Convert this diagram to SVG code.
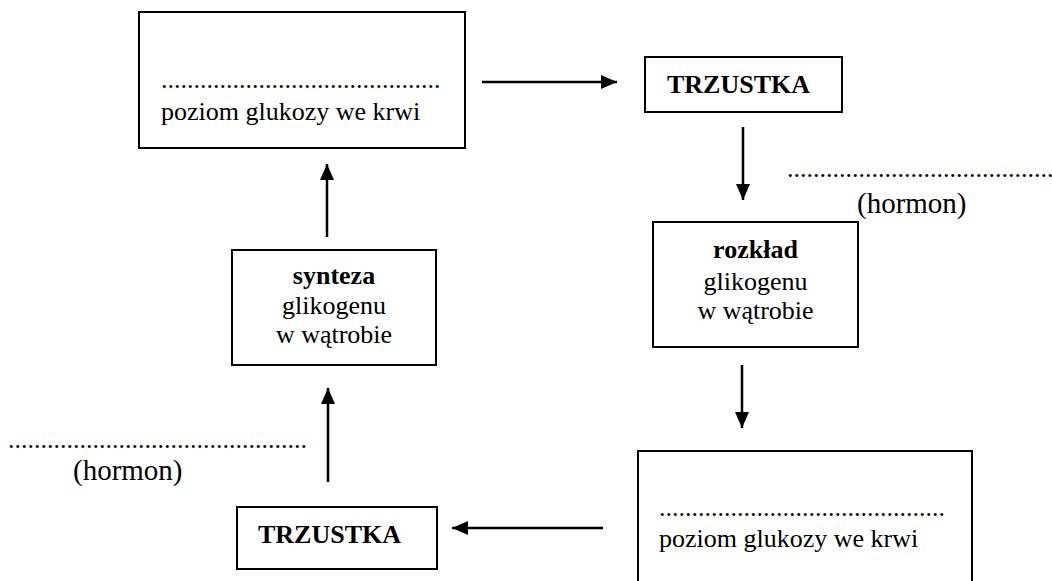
<svg xmlns="http://www.w3.org/2000/svg" width="1052" height="581" viewBox="0 0 1052 581">
<defs>
<marker id="ah" markerUnits="userSpaceOnUse" markerWidth="16" markerHeight="14" refX="16" refY="7" orient="auto">
<path d="M0,0 L16,7 L0,14 z" fill="#000"/>
</marker>
<style>
.box{fill:#fff;stroke:#000;stroke-width:2}
.t{font-family:"Liberation Serif","Times New Roman",serif;font-size:26px;fill:#000}
.b{font-weight:bold}
.h{font-size:29px}
.c{text-anchor:middle}
.ar{stroke:#000;stroke-width:2.5;fill:none;marker-end:url(#ah)}
</style>
</defs>
<rect width="1052" height="581" fill="#fff"/>
<g id="poziom-top">
<rect class="box" x="139" y="12" width="326" height="136"/>
<text class="t" x="161" y="88">...........................................</text>
<text class="t" x="161" y="120">poziom glukozy we krwi</text>
</g>
<g id="trzustka-top">
<rect class="box" x="645" y="57" width="197" height="55"/>
<text class="t b" x="667" y="93">TRZUSTKA</text>
</g>
<g id="hormon-top">
<text class="t" x="787" y="177">.........................................</text>
<text class="t h" x="857" y="213">(hormon)</text>
</g>
<g id="rozklad">
<rect class="box" x="653" y="222" width="205" height="125"/>
<text class="t b c" x="755.5" y="258">rozkład</text>
<text class="t c" x="755.5" y="290">glikogenu</text>
<text class="t c" x="755.5" y="319">w wątrobie</text>
</g>
<g id="poziom-bottom">
<rect class="box" x="638" y="451" width="334" height="140"/>
<text class="t" x="659" y="516">............................................</text>
<text class="t" x="659" y="547">poziom glukozy we krwi</text>
</g>
<g id="trzustka-bottom">
<rect class="box" x="237" y="507" width="200" height="62"/>
<text class="t b" x="258" y="543">TRZUSTKA</text>
</g>
<g id="hormon-bottom">
<text class="t" x="8" y="448">..............................................</text>
<text class="t h" x="73" y="480">(hormon)</text>
</g>
<g id="synteza">
<rect class="box" x="232" y="250" width="204" height="115"/>
<text class="t b c" x="334" y="284">synteza</text>
<text class="t c" x="334" y="314">glikogenu</text>
<text class="t c" x="334" y="343">w wątrobie</text>
</g>
<g id="connectors">
<line class="ar" x1="482" y1="82" x2="617" y2="82"/>
<line class="ar" x1="743" y1="127" x2="743" y2="200"/>
<line class="ar" x1="742" y1="365" x2="742" y2="428"/>
<line class="ar" x1="603" y1="528" x2="452" y2="528"/>
<line class="ar" x1="328" y1="482" x2="328" y2="388"/>
<line class="ar" x1="327" y1="237" x2="327" y2="164"/>
</g>
</svg>
